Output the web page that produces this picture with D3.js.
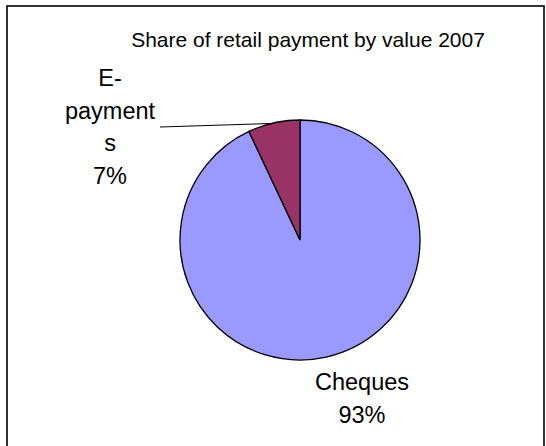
<!DOCTYPE html>
<html>
<head>
<meta charset="utf-8">
<script src="https://cdn.jsdelivr.net/npm/d3@7"></script>
<style>
  body { margin: 0; background: #fff; }
  text { font-family: "Liberation Sans", Arial, sans-serif; fill: #000; }
</style>
</head>
<body>
<svg id="chart" width="546" height="446"></svg>
<script>
// data
const categories = ["Cheques", "E-payments"];
const shares = [93, 7];
const labelLines = [["Cheques", "93%"], ["E-", "payment", "s", "7%"]];
const colors = ["#9999FF", "#993366"];
const title = "Share of retail payment by value 2007";

const width = 546, height = 446;
const cx = 300, cy = 240, radius = 120;

const svg = d3.select("#chart");

// chart frame (runs off the bottom edge like the original)
svg.append("rect")
  .attr("x", 7).attr("y", 6)
  .attr("width", 537).attr("height", 470)
  .attr("fill", "none")
  .attr("stroke", "#000")
  .attr("stroke-width", 1.6);

svg.append("text")
  .attr("x", 308).attr("y", 47)
  .attr("text-anchor", "middle")
  .style("font-size", "21px")
  .text(title);

const pie = d3.pie().sort(null).value(d => d)(shares);
const arc = d3.arc().innerRadius(0).outerRadius(radius);

const g = svg.append("g").attr("transform", `translate(${cx},${cy})`);

g.selectAll("path.slice")
  .data(pie)
  .enter()
  .append("path")
  .attr("class", "slice")
  .attr("d", arc)
  .attr("fill", (d, i) => colors[i])
  .attr("stroke", "#000")
  .attr("stroke-width", 1.3);

// label anchors (offsets from pie centre, where Excel placed them)
const labelPos = [{ x: 62, y: 150 }, { x: -190, y: -154 }];
const lineH = 32.5;

g.selectAll("text.lbl")
  .data(pie)
  .enter()
  .append("text")
  .attr("class", "lbl")
  .attr("text-anchor", "middle")
  .style("font-size", "23.5px")
  .each(function(d, i) {
    const t = d3.select(this);
    labelLines[i].forEach((s, k) => {
      t.append("tspan")
        .attr("x", labelPos[i].x)
        .attr("y", labelPos[i].y + k * lineH)
        .text(s);
    });
  });

// leader line for the small slice: from label to a point on the slice edge
const ep = pie[1];
const a = ep.startAngle + (ep.endAngle - ep.startAngle) * 0.45;
g.append("line")
  .attr("x1", -140).attr("y1", -113)
  .attr("x2", Math.sin(a) * radius)
  .attr("y2", -Math.cos(a) * radius)
  .attr("stroke", "#000")
  .attr("stroke-width", 1);
</script>
</body>
</html>
